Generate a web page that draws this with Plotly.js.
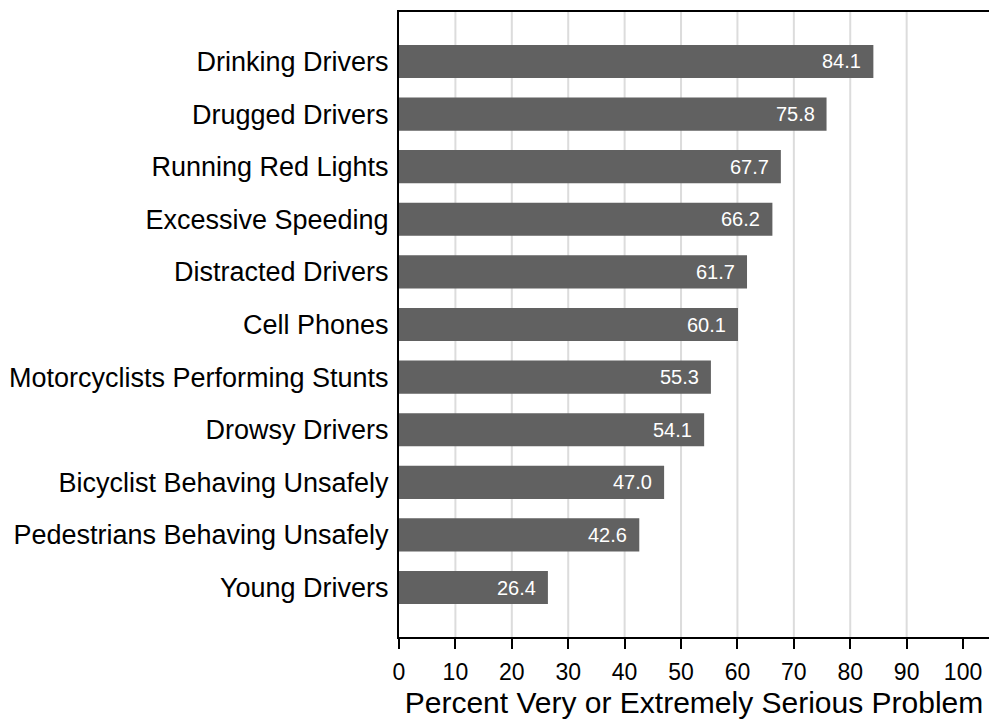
<!DOCTYPE html>
<html>
<head>
<meta charset="utf-8">
<script src="https://cdn.plot.ly/plotly-3.0.1.min.js"></script>
<style>
html,body{margin:0;padding:0;overflow:hidden;background:#fff;}
#chart{width:989px;height:719px;}
</style>
</head>
<body>
<div id="chart"></div>
<script>
const categories = [
  "Drinking Drivers",
  "Drugged Drivers",
  "Running Red Lights",
  "Excessive Speeding",
  "Distracted Drivers",
  "Cell Phones",
  "Motorcyclists Performing Stunts",
  "Drowsy Drivers",
  "Bicyclist Behaving Unsafely",
  "Pedestrians Behaving Unsafely",
  "Young Drivers"
];
const values = [84.1, 75.8, 67.7, 66.2, 61.7, 60.1, 55.3, 54.1, 47.0, 42.6, 26.4];
const tickValues = [0, 10, 20, 30, 40, 50, 60, 70, 80, 90, 100];
const gridValues = [10, 20, 30, 40, 50, 60, 70, 80, 90];

const FONT = '"Liberation Sans", Arial, Helvetica, sans-serif';

const trace = {
  type: 'bar',
  orientation: 'h',
  x: values,
  y: categories,
  marker: {color: '#616161', line: {width: 0}},
  width: 0.63,
  hoverinfo: 'x+y'
};

const annotations = values.map((v, i) => ({
  x: v, y: categories[i], xref: 'x', yref: 'y',
  text: v.toFixed(1), showarrow: false,
  xanchor: 'right', yanchor: 'middle', xshift: -10,
  font: {family: FONT, size: 20, color: '#ffffff'}
}));

const shapes = gridValues.map(g => ({
  type: 'line', layer: 'below', xref: 'x', yref: 'paper',
  x0: g, x1: g, y0: 0, y1: 1,
  line: {color: '#dcdcdc', width: 2}
}));

const layout = {
  width: 989, height: 719,
  margin: {l: 399, r: 0, t: 12, b: 82, pad: 0},
  paper_bgcolor: '#ffffff', plot_bgcolor: '#ffffff',
  font: {family: FONT, color: '#000000'},
  showlegend: false,
  bargap: 0.37,
  xaxis: {
    range: [0, 104.6],
    tickvals: tickValues,
    ticktext: tickValues.map(String),
    showgrid: false, zeroline: false,
    showline: true, linecolor: '#000000', linewidth: 2, mirror: true,
    ticks: 'outside', ticklen: 10, tickwidth: 2, tickcolor: '#000000',
    ticklabelstandoff: 3,
    tickfont: {family: FONT, size: 23, color: '#000000'},
    title: {text: 'Percent Very or Extremely Serious Problem', font: {family: FONT, size: 30, color: '#000000'}, standoff: 9}
  },
  yaxis: {
    type: 'category',
    range: [10.94, -0.94],
    showgrid: false, zeroline: false,
    showline: true, linecolor: '#000000', linewidth: 2,
    ticks: '', ticklabelstandoff: 3,
    tickfont: {family: FONT, size: 27, color: '#000000'}
  },
  shapes: shapes,
  annotations: annotations
};

Plotly.newPlot('chart', [trace], layout, {displayModeBar: false, staticPlot: true});
</script>
</body>
</html>
